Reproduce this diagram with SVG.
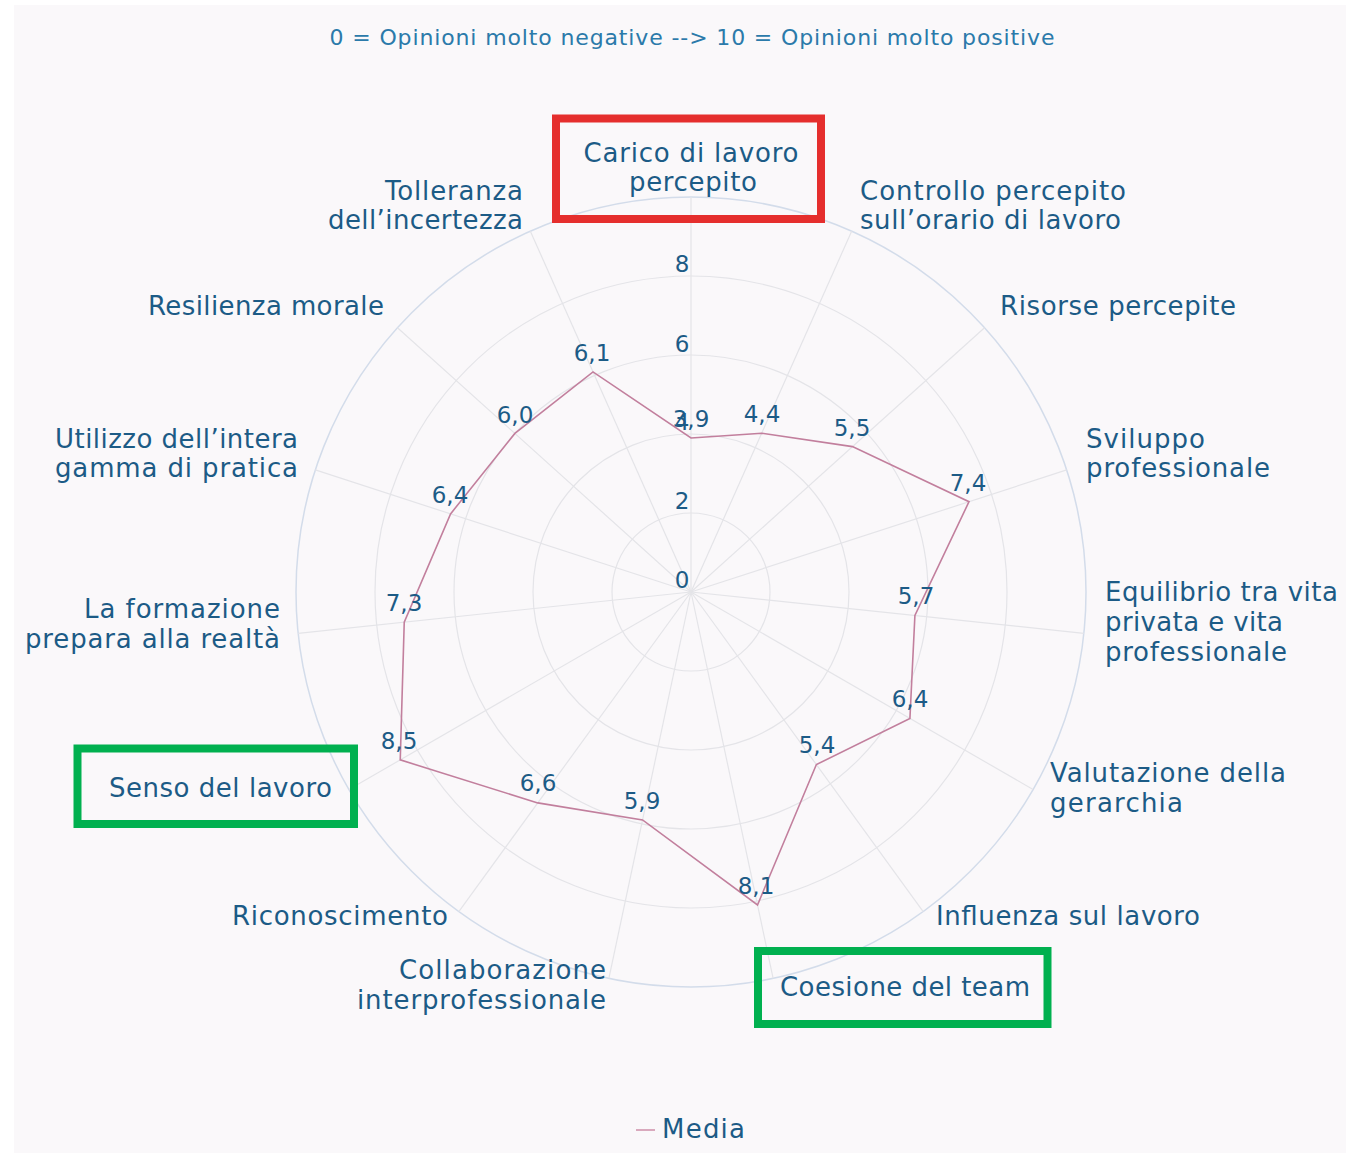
<svg xmlns="http://www.w3.org/2000/svg" width="1346" height="1153" viewBox="0 0 1346 1153">
<style>
text{font-family:"DejaVu Sans","Liberation Sans",sans-serif;fill:#1c5b86}
.ax{font-size:26px}
.val{font-size:23px;text-anchor:middle}
.tick{font-size:23px;text-anchor:middle}
.title{font-size:22px;fill:#2b7aaa;text-anchor:middle}
.ring{fill:none;stroke:#e4e4e8;stroke-width:1.2}
.outer{fill:none;stroke:#d3dcea;stroke-width:1.5}
.spoke{stroke:#e4e4e8;stroke-width:1.2}
.e{text-anchor:end}
.m{text-anchor:middle}
.hl{fill:none;stroke-width:8}
</style>
<rect x="0" y="0" width="1346" height="1153" fill="#ffffff"/>
<rect x="14" y="5" width="1332" height="1148" fill="#faf8fa"/>
<text class="title" x="692" y="45" textLength="725" lengthAdjust="spacing">0 = Opinioni molto negative --&gt; 10 = Opinioni molto positive</text>
<g id="grid">
<circle class="ring" cx="691" cy="592" r="79"/>
<circle class="ring" cx="691" cy="592" r="158"/>
<circle class="ring" cx="691" cy="592" r="237"/>
<circle class="ring" cx="691" cy="592" r="316"/>
<circle class="outer" cx="691" cy="592" r="395"/>
<line class="spoke" x1="691" y1="592" x2="691" y2="197"/>
<line class="spoke" x1="691" y1="592" x2="851.65" y2="231.17"/>
<line class="spoke" x1="691" y1="592" x2="984.52" y2="327.71"/>
<line class="spoke" x1="691" y1="592" x2="1066.68" y2="469.94"/>
<line class="spoke" x1="691" y1="592" x2="1083.83" y2="633.28"/>
<line class="spoke" x1="691" y1="592" x2="1033.07" y2="789.5"/>
<line class="spoke" x1="691" y1="592" x2="923.18" y2="911.56"/>
<line class="spoke" x1="691" y1="592" x2="773.12" y2="978.35"/>
<line class="spoke" x1="691" y1="592" x2="608.88" y2="978.35"/>
<line class="spoke" x1="691" y1="592" x2="458.82" y2="911.56"/>
<line class="spoke" x1="691" y1="592" x2="348.93" y2="789.5"/>
<line class="spoke" x1="691" y1="592" x2="298.17" y2="633.28"/>
<line class="spoke" x1="691" y1="592" x2="315.32" y2="469.94"/>
<line class="spoke" x1="691" y1="592" x2="397.48" y2="327.71"/>
<line class="spoke" x1="691" y1="592" x2="530.35" y2="231.17"/>
</g>
<g id="ticks">
<text class="tick" x="682" y="588">0</text>
<text class="tick" x="682" y="509">2</text>
<text class="tick" x="682" y="430">4</text>
<text class="tick" x="682" y="352">6</text>
<text class="tick" x="682" y="272">8</text>
</g>
<g id="connectors">
<polygon points="691,437.95 761.69,433.23 852.44,446.64 969.01,501.68 914.91,615.53 909.93,718.4 816.38,764.56 757.52,904.94 642.55,819.95 537.76,802.91 400.24,759.88 404.24,622.13 450.56,513.88 514.89,433.42 593.01,371.89" fill="none" stroke="#c27f9d" stroke-width="1.6" stroke-linejoin="miter"/>
</g>
<g id="values">
<text class="val" x="691" y="427">3,9</text>
<text class="val" x="762" y="422">4,4</text>
<text class="val" x="852" y="436">5,5</text>
<text class="val" x="968" y="491">7,4</text>
<text class="val" x="916" y="604">5,7</text>
<text class="val" x="910" y="707">6,4</text>
<text class="val" x="817" y="753">5,4</text>
<text class="val" x="756" y="894">8,1</text>
<text class="val" x="642" y="809">5,9</text>
<text class="val" x="538" y="791">6,6</text>
<text class="val" x="399" y="749">8,5</text>
<text class="val" x="404" y="611">7,3</text>
<text class="val" x="450" y="503">6,4</text>
<text class="val" x="515" y="423">6,0</text>
<text class="val" x="592" y="361">6,1</text>
</g>
<g id="node-carico">
<rect class="hl" x="556" y="118.5" width="265" height="100.5" stroke="#e52e2d"/>
<text class="ax m" x="691" y="162" textLength="215" lengthAdjust="spacing">Carico di lavoro</text>
<text class="ax m" x="693" y="191" textLength="128" lengthAdjust="spacing">percepito</text>
</g>
<g id="node-controllo">
<text class="ax" x="860" y="200" textLength="266" lengthAdjust="spacing">Controllo percepito</text>
<text class="ax" x="860" y="229" textLength="261" lengthAdjust="spacing">sull’orario di lavoro</text>
</g>
<g id="node-risorse">
<text class="ax" x="1000" y="315" textLength="236" lengthAdjust="spacing">Risorse percepite</text>
</g>
<g id="node-sviluppo">
<text class="ax" x="1086" y="448" textLength="119" lengthAdjust="spacing">Sviluppo</text>
<text class="ax" x="1086" y="477" textLength="184" lengthAdjust="spacing">professionale</text>
</g>
<g id="node-equilibrio">
<text class="ax" x="1105" y="601" textLength="233" lengthAdjust="spacing">Equilibrio tra vita</text>
<text class="ax" x="1105" y="631" textLength="178" lengthAdjust="spacing">privata e vita</text>
<text class="ax" x="1105" y="661" textLength="182" lengthAdjust="spacing">professionale</text>
</g>
<g id="node-valutazione">
<text class="ax" x="1050" y="782" textLength="236" lengthAdjust="spacing">Valutazione della</text>
<text class="ax" x="1050" y="812" textLength="133" lengthAdjust="spacing">gerarchia</text>
</g>
<g id="node-influenza">
<text class="ax" x="936" y="925" textLength="264" lengthAdjust="spacing">Influenza sul lavoro</text>
</g>
<g id="node-coesione">
<rect class="hl" x="758" y="951" width="289.5" height="73" stroke="#00b04f"/>
<text class="ax" x="780" y="996" textLength="250" lengthAdjust="spacing">Coesione del team</text>
</g>
<g id="node-collaborazione">
<text class="ax e" x="606" y="979" textLength="207" lengthAdjust="spacing">Collaborazione</text>
<text class="ax e" x="606" y="1009" textLength="249" lengthAdjust="spacing">interprofessionale</text>
</g>
<g id="node-riconoscimento">
<text class="ax e" x="448" y="925" textLength="216" lengthAdjust="spacing">Riconoscimento</text>
</g>
<g id="node-senso">
<rect class="hl" x="77.5" y="748.5" width="276.5" height="75.5" stroke="#00b04f"/>
<text class="ax e" x="332" y="797" textLength="223" lengthAdjust="spacing">Senso del lavoro</text>
</g>
<g id="node-formazione">
<text class="ax e" x="280" y="618" textLength="196" lengthAdjust="spacing">La formazione</text>
<text class="ax e" x="280" y="648" textLength="255" lengthAdjust="spacing">prepara alla realtà</text>
</g>
<g id="node-utilizzo">
<text class="ax e" x="298" y="448" textLength="243" lengthAdjust="spacing">Utilizzo dell’intera</text>
<text class="ax e" x="298" y="477" textLength="243" lengthAdjust="spacing">gamma di pratica</text>
</g>
<g id="node-resilienza">
<text class="ax e" x="384" y="315" textLength="236" lengthAdjust="spacing">Resilienza morale</text>
</g>
<g id="node-tolleranza">
<text class="ax e" x="523" y="200" textLength="138" lengthAdjust="spacing">Tolleranza</text>
<text class="ax e" x="523" y="229" textLength="195" lengthAdjust="spacing">dell’incertezza</text>
</g>
<g id="legend">
<line x1="636" y1="1130" x2="655" y2="1130" stroke="#d9a9bd" stroke-width="2"/>
<text class="ax" x="662" y="1138" textLength="83" lengthAdjust="spacing">Media</text>
</g>
</svg>
